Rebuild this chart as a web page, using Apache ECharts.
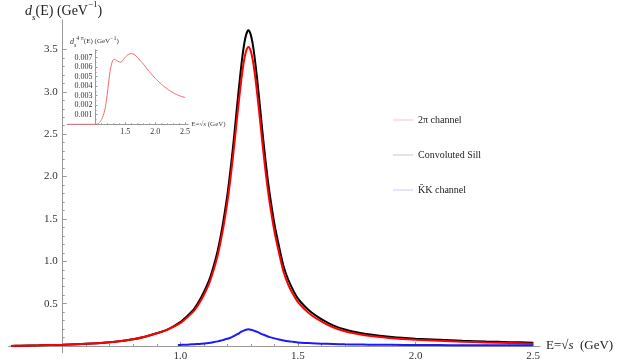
<!DOCTYPE html>
<html>
<head>
<meta charset="utf-8">
<script src="https://cdn.jsdelivr.net/npm/echarts@6/dist/echarts.min.js"></script>
<style>
  html, body { margin: 0; padding: 0; background: #fff; }
  #chart { width: 625px; height: 362px; }
</style>
</head>
<body>
<div id="chart"></div>
<script>
// energy grid (GeV) for the 2pi channel and the convoluted Sill
const energy = [0.28, 0.32, 0.4, 0.5, 0.6, 0.7, 0.75, 0.8, 0.85, 0.9,
  0.95, 1.0, 1.03, 1.06, 1.09, 1.12, 1.14, 1.16, 1.18, 1.2,
  1.21, 1.22, 1.23, 1.24, 1.25, 1.26, 1.27, 1.28, 1.29, 1.3,
  1.31, 1.32, 1.33, 1.34, 1.35, 1.36, 1.37, 1.38,
  1.4, 1.42, 1.44, 1.46, 1.48, 1.5,
  1.53, 1.56, 1.6, 1.65, 1.7, 1.75, 1.8,
  1.9, 2.0, 2.1, 2.2, 2.3, 2.4, 2.5];
// convoluted Sill (black)
const sillTotal = [0, 0.004, 0.008, 0.015, 0.026, 0.045, 0.06, 0.08, 0.11, 0.15,
  0.2, 0.283, 0.356, 0.442, 0.578, 0.757, 0.925, 1.135, 1.42, 1.775,
  1.995, 2.235, 2.5, 2.785, 3.06, 3.32, 3.53, 3.673, 3.727, 3.673,
  3.535, 3.325, 3.075, 2.8, 2.518, 2.257, 2.015, 1.805,
  1.45, 1.177, 0.936, 0.777, 0.66, 0.563,
  0.467, 0.393, 0.318, 0.244, 0.195, 0.163, 0.138,
  0.107, 0.087, 0.074, 0.062, 0.053, 0.046, 0.04];
// 2pi channel (red)
const pipi = [0, 0.004, 0.008, 0.015, 0.026, 0.045, 0.06, 0.08, 0.11, 0.15,
  0.2, 0.27, 0.34, 0.42, 0.55, 0.72, 0.88, 1.08, 1.35, 1.69,
  1.9, 2.13, 2.38, 2.65, 2.91, 3.15, 3.35, 3.48, 3.53, 3.48,
  3.35, 3.15, 2.91, 2.65, 2.38, 2.13, 1.9, 1.7,
  1.36, 1.1, 0.87, 0.72, 0.61, 0.52,
  0.43, 0.36, 0.29, 0.22, 0.175, 0.145, 0.122,
  0.093, 0.075, 0.062, 0.051, 0.042, 0.035, 0.028];
// KK channel (blue)
const kkEnergy = [0.99, 1.0, 1.03, 1.06, 1.09, 1.12, 1.14, 1.16, 1.18, 1.2,
  1.21, 1.22, 1.23, 1.24, 1.25, 1.26, 1.27, 1.28, 1.29, 1.3,
  1.31, 1.32, 1.33, 1.34, 1.35, 1.36, 1.37, 1.38,
  1.4, 1.42, 1.44, 1.46, 1.48, 1.5,
  1.53, 1.56, 1.6, 1.65, 1.7, 1.75, 1.8,
  1.9, 2.0, 2.1, 2.2, 2.3, 2.4, 2.5];
const kkbar = [0.012, 0.013, 0.016, 0.022, 0.028, 0.037, 0.045, 0.055, 0.07, 0.085,
  0.095, 0.105, 0.12, 0.135, 0.15, 0.17, 0.182, 0.193, 0.197, 0.193,
  0.185, 0.175, 0.165, 0.15, 0.138, 0.127, 0.115, 0.105,
  0.09, 0.077, 0.066, 0.057, 0.05, 0.043,
  0.037, 0.033, 0.028, 0.024, 0.02, 0.018, 0.016,
  0.014, 0.012, 0.011, 0.01, 0.009, 0.0085, 0.008];
// inset: 4pi channel
const fourPiEnergy = [0.52, 1.0, 1.05, 1.1, 1.15, 1.18, 1.21, 1.24, 1.27, 1.3, 1.33, 1.37, 1.42, 1.48,
  1.54, 1.6, 1.65, 1.7, 1.8, 1.9, 2.0, 2.1, 2.2, 2.3, 2.4, 2.5];
const fourPi = [0, 0, 0.0001, 0.0005, 0.0014, 0.0025, 0.004, 0.0055, 0.0064, 0.0068, 0.0068, 0.0066, 0.0065, 0.0069,
  0.0073, 0.0074, 0.0073, 0.007, 0.0063, 0.0055, 0.0048, 0.0042, 0.0037, 0.0033, 0.003, 0.0028];

const legendNames = ['2π channel', 'Convoluted Sill', 'K̄K channel'];

const font = 'Liberation Serif';
const axisGray = '#999';
const labelColor = '#333';
// thin bar used as legend key
const legendLine = 'path://M0,0H20V1H0Z';

function pairs(xs, ys) {
  return xs.map((x, i) => [x, ys[i]]);
}

const chart = echarts.init(document.getElementById('chart'));

const option = {
  animation: false,
  backgroundColor: '#fff',
  textStyle: { fontFamily: font },
  grid: [
    // 0: data area, full x range
    { left: 8.6, right: 85, top: 19.9, bottom: 9.2, outerBoundsMode: 'none' },
    // 1: ticks and labels, origin at E = 0.5
    { left: 62.7, width: 470.4, top: 49.5, bottom: 16, outerBoundsMode: 'none' },
    // 2: y axis line only
    { left: 62.7, width: 1, top: 19.9, bottom: 9.2, outerBoundsMode: 'none' },
    // 3: inset ticks
    { left: 95.5, width: 89.6, top: 49.8, height: 74.5, outerBoundsMode: 'none' },
    // 4: inset data
    { left: 67, width: 121.2, top: 49.8, height: 74.5, outerBoundsMode: 'none' }
  ],
  xAxis: [
    {
      gridIndex: 0, type: 'value', min: 0.27, max: 2.53,
      axisLine: { onZero: true, lineStyle: { color: axisGray, width: 1 } },
      axisTick: { show: false }, axisLabel: { show: false }, splitLine: { show: false },
      name: '{n|E=√}{i|s}{n|  (GeV)}', nameLocation: 'end', nameGap: 6,
      nameTextStyle: {
        rich: {
          n: { fontFamily: font, fontSize: 13, color: '#222' },
          i: { fontFamily: font, fontSize: 13, fontStyle: 'italic', color: '#222' }
        }
      }
    },
    {
      gridIndex: 1, type: 'value', min: 0.5, max: 2.5, interval: 0.5,
      axisLine: { onZero: true, lineStyle: { color: axisGray } },
      axisTick: { inside: true, length: 4, lineStyle: { color: axisGray } },
      minorTick: { show: true, splitNumber: 5, length: 2, lineStyle: { color: axisGray } },
      splitLine: { show: false }, minorSplitLine: { show: false },
      axisLabel: {
        margin: 5, fontFamily: font, fontSize: 11, color: labelColor,
        formatter: v => (v === 0.5 ? '' : v.toFixed(1))
      }
    },
    { gridIndex: 2, type: 'value', min: 0, max: 1, show: false },
    {
      gridIndex: 3, type: 'value', min: 1, max: 2.5, interval: 0.5,
      axisLine: { onZero: true, lineStyle: { color: axisGray } },
      axisTick: { inside: true, length: 2, lineStyle: { color: axisGray } },
      minorTick: { show: true, splitNumber: 5, length: 1, lineStyle: { color: axisGray } },
      splitLine: { show: false },
      axisLabel: {
        margin: 4, fontFamily: font, fontSize: 8, color: labelColor,
        formatter: v => (v === 1 ? '' : v.toFixed(1))
      }
    },
    {
      gridIndex: 4, type: 'value', min: 0.52, max: 2.55,
      axisLine: { onZero: true, lineStyle: { color: axisGray } },
      axisTick: { show: false }, axisLabel: { show: false }, splitLine: { show: false },
      name: '{n|E=√}{i|s}{n| (GeV)}', nameLocation: 'end', nameGap: 3,
      nameTextStyle: {
        rich: {
          n: { fontFamily: font, fontSize: 7, color: '#444' },
          i: { fontFamily: font, fontSize: 7, fontStyle: 'italic', color: '#444' }
        }
      }
    }
  ],
  yAxis: [
    { gridIndex: 0, type: 'value', min: -0.08, max: 3.85, show: false },
    {
      gridIndex: 1, type: 'value', min: 0, max: 3.5, interval: 0.5,
      axisLine: { show: true, lineStyle: { color: axisGray } },
      axisTick: { show: true, inside: true, length: 4, lineStyle: { color: axisGray } },
      minorTick: { show: true, splitNumber: 5, length: 2, lineStyle: { color: axisGray } },
      splitLine: { show: false }, minorSplitLine: { show: false },
      axisLabel: {
        margin: 5, fontFamily: font, fontSize: 11, color: labelColor,
        formatter: v => (v === 0 ? '' : v.toFixed(1))
      }
    },
    {
      gridIndex: 2, type: 'value', min: -0.08, max: 3.85,
      axisLine: { show: true, onZero: false, lineStyle: { color: axisGray } },
      axisTick: { show: false }, axisLabel: { show: false }, splitLine: { show: false }
    },
    {
      gridIndex: 3, type: 'value', min: 0, max: 0.0078, interval: 0.001,
      axisLine: { show: true, onZero: false, lineStyle: { color: axisGray } },
      axisTick: { show: true, inside: true, length: 2, lineStyle: { color: axisGray } },
      minorTick: { show: true, splitNumber: 2, length: 1, lineStyle: { color: axisGray } },
      splitLine: { show: false },
      axisLabel: {
        margin: 3, fontFamily: font, fontSize: 8, color: labelColor,
        showMaxLabel: false,
        formatter: v => (v === 0 || v > 0.0071 ? '' : v.toFixed(3))
      }
    },
    { gridIndex: 4, type: 'value', min: 0, max: 0.0078, show: false }
  ],
  legend: {
    orient: 'vertical', left: 393, top: 115, padding: 0,
    itemWidth: 20, itemHeight: 14, itemGap: 25,
    textStyle: { fontFamily: font, fontSize: 10, color: '#222' },
    data: [
      { name: legendNames[0], icon: legendLine, itemStyle: { color: '#f6c2c2' } },
      { name: legendNames[1], icon: legendLine, itemStyle: { color: '#c8c8c8' } },
      { name: legendNames[2], icon: legendLine, itemStyle: { color: '#c6c6f4' } }
    ]
  },
  graphic: [
    {
      type: 'text', left: 25, top: 0,
      style: {
        text: '{i|d}{sub|s}{n|(E) (GeV}{sup|−1}{n|)}',
        rich: {
          i: { fontFamily: font, fontSize: 14, fontStyle: 'italic', fill: '#222', lineHeight: 22 },
          n: { fontFamily: font, fontSize: 14, fill: '#222', lineHeight: 22 },
          sub: { fontFamily: font, fontSize: 9, fontStyle: 'italic', fill: '#222', verticalAlign: 'bottom' },
          sup: { fontFamily: font, fontSize: 9, fill: '#222', verticalAlign: 'top' }
        }
      }
    },
    {
      type: 'text', left: 70, top: 35,
      style: {
        text: '{i|d}{sub|s}{sup|4 π}{n|(E) (GeV}{sup|−1}{n|)}',
        rich: {
          i: { fontFamily: font, fontSize: 8, fontStyle: 'italic', fill: '#333', lineHeight: 13 },
          n: { fontFamily: font, fontSize: 7, fill: '#333', lineHeight: 13 },
          sub: { fontFamily: font, fontSize: 6, fontStyle: 'italic', fill: '#333', verticalAlign: 'bottom' },
          sup: { fontFamily: font, fontSize: 6, fill: '#333', verticalAlign: 'top' }
        }
      }
    }
  ],
  series: [
    {
      name: legendNames[1], type: 'line', xAxisIndex: 0, yAxisIndex: 0,
      data: pairs(energy, sillTotal), showSymbol: false, symbol: 'none',
      smooth: 0.25, color: '#000',
      lineStyle: { color: '#000', width: 2 }
    },
    {
      name: legendNames[0], type: 'line', xAxisIndex: 0, yAxisIndex: 0,
      data: pairs(energy, pipi), showSymbol: false, symbol: 'none',
      smooth: 0.25, color: '#f00',
      lineStyle: { color: '#f00', width: 2 }
    },
    {
      name: legendNames[2], type: 'line', xAxisIndex: 0, yAxisIndex: 0,
      data: pairs(kkEnergy, kkbar), showSymbol: false, symbol: 'none',
      smooth: 0.25, color: '#00f',
      lineStyle: { color: '#1a1aff', width: 2 }
    },
    {
      name: '4π channel', type: 'line', xAxisIndex: 4, yAxisIndex: 4,
      data: pairs(fourPiEnergy, fourPi), showSymbol: false, symbol: 'none',
      smooth: 0.25, color: '#f66',
      lineStyle: { color: '#f36b6b', width: 1 }
    }
  ]
};

chart.setOption(option);
</script>
</body>
</html>
